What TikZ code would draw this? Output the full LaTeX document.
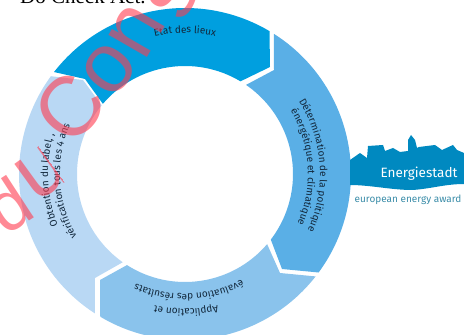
\documentclass[tikz,border=0pt]{standalone}
\usepackage{fontspec}
\setmainfont{Liberation Serif}
\setsansfont{Fira Sans}
\newfontfamily\wmfont{Liberation Sans}
\usetikzlibrary{calc,decorations.text}
\definecolor{segA}{HTML}{009FDF}
\definecolor{segB}{HTML}{5AAFE6}
\definecolor{segC}{HTML}{8AC3EC}
\definecolor{segD}{HTML}{B9D8F4}
\definecolor{logoblue}{HTML}{0089C0}
\definecolor{logoteal}{HTML}{3A8CA8}
\definecolor{wmred}{HTML}{FF3B4E}
\definecolor{ringtext}{HTML}{12283C}
\tikzset{
  ringlabel/.style={decorate,decoration={text along path,text align=center,
    text={|\sffamily\fontsize{10}{10}\selectfont\color{ringtext}|#1}}},
  wmletter/.style={text=wmred,opacity=0.6,font=\wmfont\fontsize{84}{84}\selectfont,inner sep=0pt},
}
\begin{document}
\begin{tikzpicture}[x=1pt,y=1pt]
\useasboundingbox (0,0) rectangle (464,335);
\clip (0,0) rectangle (464,335);
\coordinate (c) at (185,161);
% title
\node[anchor=base west,inner sep=0pt,font=\fontsize{21}{21}\selectfont] (title) at (20,331) {Do Check Act.};
% segments
\fill[segA] ($(c)+(142.1:166)$) arc[start angle=142.1,end angle=59.4,radius=166pt] -- (270,268)
  -- ($(c)+(59.1:108)$) arc[start angle=59.1,end angle=139.5,radius=108pt] -- (85,256) -- cycle;
\fill[segB] ($(c)+(57.6:166)$) arc[start angle=57.6,end angle=-36.4,radius=166pt] -- (282,66)
  -- ($(c)+(-37.4:108)$) arc[start angle=-37.4,end angle=55.6,radius=108pt] -- (274,265) -- cycle;
\fill[segC] ($(c)+(-38.1:166)$) arc[start angle=-38.1,end angle=-120.7,radius=166pt] -- (100,55)
  -- ($(c)+(-122.5:108)$) arc[start angle=-122.5,end angle=-40.5,radius=108pt] -- (280,62) -- cycle;
\fill[segD] ($(c)+(-122.9:166)$) arc[start angle=-122.9,end angle=-216.1,radius=166pt] -- (83,255)
  -- ($(c)+(140.5:108)$) arc[start angle=140.5,end angle=234.8,radius=108pt] -- (95,57) -- cycle;
% ring labels
\path[ringlabel={Etat des lieux}] ($(c)+(120:141)$) arc[start angle=120,end angle=60,radius=141pt];
\path[ringlabel={Détermination de la politique}] ($(c)+(50:135)$) arc[start angle=50,end angle=-42,radius=135pt];
\path[ringlabel={énergétique et climatique}] ($(c)+(50:123)$) arc[start angle=50,end angle=-43,radius=123pt];
\path[ringlabel={Application et}] ($(c)+(-50:135)$) arc[start angle=-50,end angle=-129,radius=135pt];
\path[ringlabel={évaluation des résultats}] ($(c)+(-38:120)$) arc[start angle=-38,end angle=-138,radius=120pt];
\path[ringlabel={Obtention du label, ,}] ($(c)+(-140:137)$) arc[start angle=-140,end angle=-215,radius=137pt];
\path[ringlabel={vérification tous les 4 ans}] ($(c)+(-130:125)$) arc[start angle=-130,end angle=-223,radius=125pt];
% logo
\fill[logoblue] (350,150) -- (350,175) -- (360,182) -- (367,177) -- (368,189) -- (383,190) -- (385,184)
  -- (393,187) -- (400,183) -- (408,184) -- (408,195) -- (411,200) -- (415,195) -- (417,187)
  -- (419,188) -- (435,190) -- (442,185) -- (453,190) -- (457,185) -- (464,182) -- (464,151)
  .. controls (445,151) and (430,146) .. (412,145)
  .. controls (392,145) and (370,150) .. (350,150) -- cycle;
\node[text=white,font=\sffamily\fontsize{13.5}{13.5}\selectfont,inner sep=0pt] (logoname) at (419,161) {Energiestadt};
\node[text=logoteal,font=\sffamily\fontsize{10}{10}\selectfont,inner sep=0pt] (logosub) at (408,135) {european energy award};
% watermark letters, set on a curve
\node[wmletter,rotate=33,font=\wmfont\fontsize{70}{70}\selectfont] (wmd) at (8,130) {d};
\begin{scope}
  \clip (22.5,210) -- (70,145) -- (50,95) -- (0,95) -- (0,210) -- cycle;
  \node[wmletter,rotate=36] (wmu) at (43,163) {u};
\end{scope}
\node[wmletter,rotate=50] (wmC) at (70,227) {C};
\node[wmletter,rotate=52] (wmo) at (109,266) {o};
\node[wmletter,rotate=60] (wmn) at (137,304) {n};
\node[wmletter,rotate=65] (wms) at (173,340) {s};
\end{tikzpicture}
\end{document}
